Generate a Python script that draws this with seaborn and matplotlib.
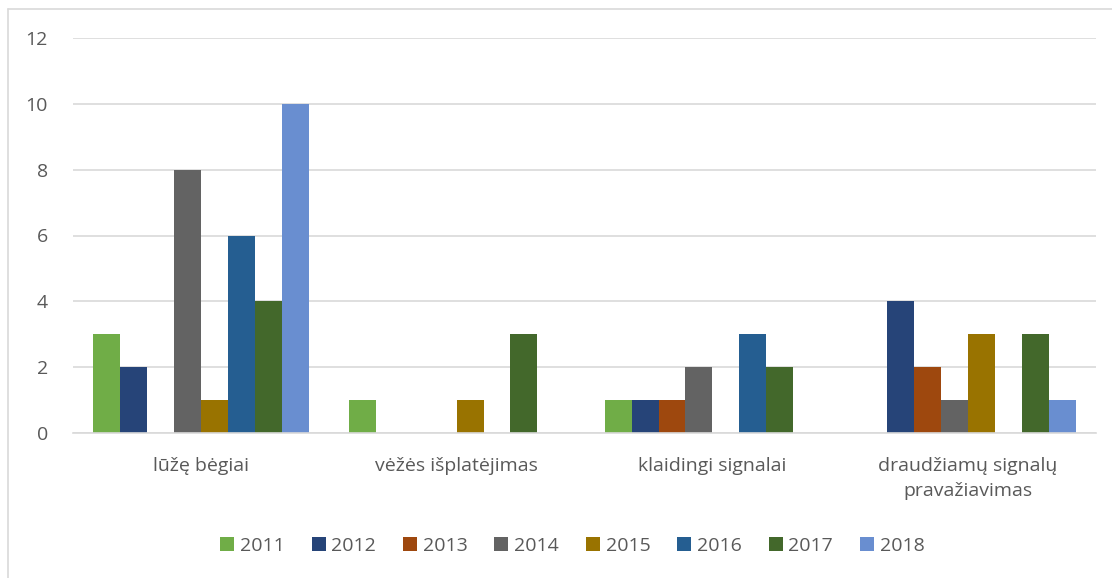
import pandas as pd
import seaborn as sns
import matplotlib.pyplot as plt
from matplotlib.lines import Line2D

# data
categories = ['lūžę bėgiai', 'vėžės išplatėjimas', 'klaidingi signalai',
              'draudžiamų signalų\npravažiavimas']
years = ['2011', '2012', '2013', '2014', '2015', '2016', '2017', '2018']
v2011 = [3, 1, 1, 0]
v2012 = [2, 0, 1, 4]
v2013 = [0, 0, 1, 2]
v2014 = [8, 0, 2, 1]
v2015 = [1, 1, 0, 3]
v2016 = [6, 0, 3, 0]
v2017 = [4, 3, 2, 3]
v2018 = [10, 0, 0, 1]
colors = ['#70AD47', '#264478', '#9E480E', '#636363',
          '#997300', '#255E91', '#43682B', '#698ED0']

series = [v2011, v2012, v2013, v2014, v2015, v2016, v2017, v2018]
rows = []
for yr, vals in zip(years, series):
    for cat, v in zip(categories, vals):
        rows.append({'category': cat, 'year': yr, 'value': v})
df = pd.DataFrame(rows)

sns.set_style('white')
plt.rcParams['font.family'] = ['Open Sans', 'DejaVu Sans']
text_color = '#595959'
fs = 14

fig = plt.figure(figsize=(11.12, 5.78), dpi=100)
ax = fig.add_axes([73 / 1112, 1 - 433 / 578, (1096 - 73) / 1112, (433 - 38) / 578])

sns.barplot(data=df, x='category', y='value', hue='year', order=categories,
            hue_order=years, palette=colors, saturation=1, width=8 / 9.5,
            linewidth=0, legend=False, ax=ax)

ax.set_ylim(0, 12)
ax.set_yticks(range(0, 13, 2))
ax.set_xlim(-0.5, 3.5)
ax.yaxis.grid(True, color='#D9D9D9', linewidth=1.2)
ax.set_axisbelow(True)
for s in ['top', 'right', 'left']:
    ax.spines[s].set_visible(False)
ax.spines['bottom'].set_color('#D9D9D9')
ax.spines['bottom'].set_linewidth(1.2)
ax.tick_params(axis='both', length=0, labelsize=fs, colors=text_color)
ax.tick_params(axis='x', pad=17)
ax.tick_params(axis='y', pad=18)
for t in ax.get_xticklabels():
    t.set_linespacing(1.5)
ax.set_xlabel('')
ax.set_ylabel('')

handles = [Line2D([], [], marker='s', linestyle='', markersize=10.5,
                  markerfacecolor=c, markeredgewidth=0) for c in colors]
leg = fig.legend(handles, years, loc='center', bbox_to_anchor=(571 / 1112, 1 - 546 / 578),
                 ncol=8, frameon=False, fontsize=fs, handletextpad=0.15,
                 columnspacing=1.25, handlelength=1.0)
for t in leg.get_texts():
    t.set_color(text_color)

# chart border (top and left edges visible)
fig.add_artist(Line2D([8 / 1112, 1], [1 - 9 / 578, 1 - 9 / 578], color='#D9D9D9', linewidth=1.2))
fig.add_artist(Line2D([8 / 1112, 8 / 1112], [0, 1 - 9 / 578], color='#D9D9D9', linewidth=1.2))

fig.savefig('out.png', dpi=100)
